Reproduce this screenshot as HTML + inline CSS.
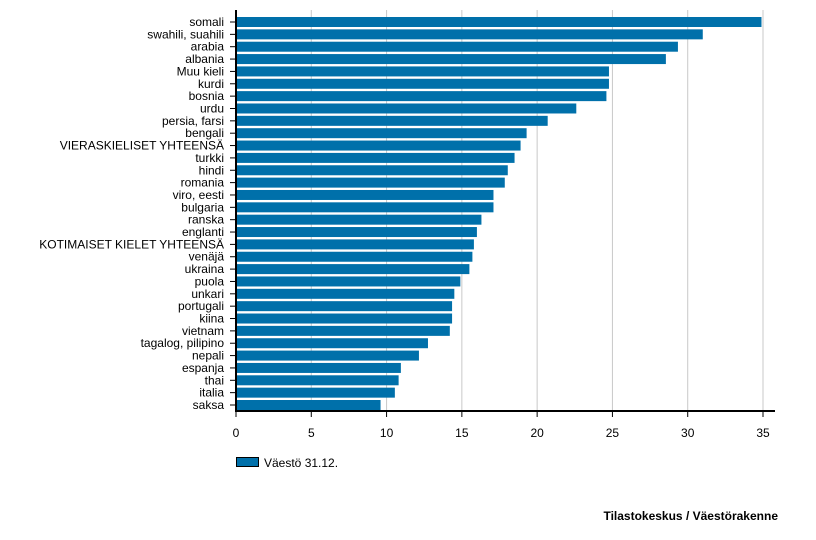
<!DOCTYPE html>
<html><head><meta charset="utf-8"><style>
body{margin:0;background:#fff;width:816px;height:535px;overflow:hidden;font-family:"Liberation Sans",Arial,sans-serif}
</style></head><body>
<svg id="chart" width="816" height="535" xmlns="http://www.w3.org/2000/svg" font-family="Liberation Sans, Arial, sans-serif"></svg>
<script>
const categories=["somali","swahili, suahili","arabia","albania","Muu kieli","kurdi","bosnia","urdu","persia, farsi","bengali","VIERASKIELISET YHTEENSÄ","turkki","hindi","romania","viro, eesti","bulgaria","ranska","englanti","KOTIMAISET KIELET YHTEENSÄ","venäjä","ukraina","puola","unkari","portugali","kiina","vietnam","tagalog, pilipino","nepali","espanja","thai","italia","saksa"];
const values=[34.9,31.0,29.35,28.55,24.77,24.77,24.6,22.6,20.7,19.3,18.9,18.5,18.05,17.85,17.1,17.1,16.3,16.0,15.8,15.7,15.5,14.9,14.5,14.35,14.35,14.2,12.75,12.15,10.95,10.8,10.55,9.6];
const xTicks=[0,5,10,15,20,25,30,35];
const svg=document.getElementById('chart');const NS="http://www.w3.org/2000/svg";
const x0=236,xScale=527/35,yTop=10,yBottom=411,y0=22,band=12.355,bh=10;
const X=v=>x0+v*xScale, Y=i=>y0+i*band;
function el(t,a,p){const e=document.createElementNS(NS,t);for(const k in a)e.setAttribute(k,a[k]);(p||svg).appendChild(e);return e;}
xTicks.forEach(t=>{if(t>0){const g=el('line',{x1:X(t),x2:X(t),y1:yTop,y2:yBottom,stroke:'#c8c8c8','stroke-width':1});

}
const tk=el('line',{x1:X(t),x2:X(t),y1:yBottom,y2:yBottom+6,stroke:'#000'});


const tl=el('text',{x:X(t),y:437,'text-anchor':'middle','font-size':12,fill:'#000'});tl.textContent=t;

});
categories.forEach((c,i)=>{const r=el('rect',{x:x0,y:Y(i)-bh/2,width:X(values[i])-x0,height:bh,fill:'#0070aa'});


const tk=el('line',{x1:x0-6,x2:x0,y1:Y(i),y2:Y(i),stroke:'#000'});


const t=el('text',{x:x0-12,y:Y(i)+4,'text-anchor':'end','font-size':12,fill:'#000'});t.textContent=c;

});
const ya=el('line',{x1:x0,x2:x0,y1:yTop,y2:yBottom,stroke:'#000','stroke-width':2});


const xa=el('line',{x1:x0-1,x2:775,y1:yBottom,y2:yBottom,stroke:'#000','stroke-width':2});


const lb=el('rect',{x:236.5,y:457.5,width:22,height:9,fill:'#0070aa',stroke:'#000'});


const lt=el('text',{x:264,y:467,'font-size':12,fill:'#000'});lt.textContent='Väestö 31.12.';


const ft=el('text',{x:778,y:520,'text-anchor':'end','font-size':12,'font-weight':'bold',fill:'#000'});ft.textContent='Tilastokeskus / Väestörakenne';


</script>
</body></html>
